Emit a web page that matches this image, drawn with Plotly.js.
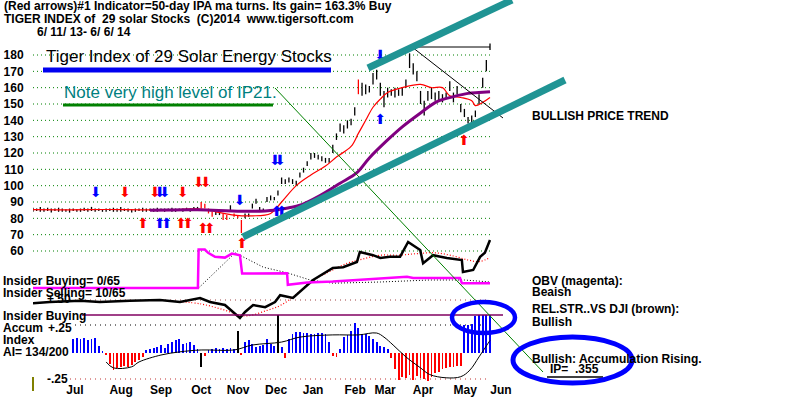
<!DOCTYPE html>
<html><head><meta charset="utf-8">
<script src="https://cdn.plot.ly/plotly-3.0.1.min.js"></script>
<style>html,body{margin:0;padding:0;background:#fff}#c{width:800px;height:397px}</style>
</head><body><div id="c"></div>
<script>
// ---------------- DATA ----------------
const months = ['Jul','Aug','Sep','Oct','Nov','Dec','Jan','Feb','Mar','Apr','May','Jun'];
const monthPos = [11.5, 24.1, 35.0, 46.0, 56.1, 66.5, 76.6, 88.1, 96.3, 106.7, 118.2, 128.0];
const priceTicks = [60,70,80,90,100,110,120,130,140,150,160,170,180];

// Tiger Index of 29 solar stocks, one bar every two trading days (high / low)
const priceHigh = [
 86.5,86,87,86,86.5,86,86,86.5,86,85.5, 86,86,85.5,86,86.5,86,87,86,86,85.5,
 86,86,86.5,86,87,86,86,85.5,86,86, 86.5,86,86,86,86.5,86,86,86,86.5,86,
 86,86,86.5,86,87,
 87,90,89,86,84,84,84,83,82,88,
 83,82,79,83,83,89,92,87,86,93,
 94,93,97,105,104,105,104,103,108,111,
 115,120,120,119,118,117,117,125,132,138,
 137,140,141,148,165,163,162,161,169,171,
 163,158,160,159,160,159,160,165,181,175,
 170,158,152,158,160,157,158,156,157,164,
 157,161,150,147,142,143,146,156,166,177,187];
const priceLow = [
 84,84.5,84,84,84.5,83.5,84.5,84,84,84, 83.5,84.5,84,84,84.5,84,84.5,84,84.5,84,
 84,84.5,84,84,84,84.5,84,83.5,84,84.5, 84,84,84.5,84,84,84.5,84,84.5,84,84,
 84.5,84,84.5,84,84.5,
 85,86,86,83,81,82,82,79,79,85,
 81,80,71,80,81,86,89,84,84,90,
 91,91,94,101,101,102,101,100,105,108,
 112,116,117,116,115,114,114,120,128,133,
 132,135,137,143,156,155,156,157,162,165,
 155,148,154,155,154,155,155,160,172,168,
 164,150,143,152,153,152,152,151,153,158,
 151,156,145,142,138,138,142,150,160,170,183];
const redBarIdx = [46,47,48,49,52,53,55,56,57,89];

// 21-day (red) and 50-day (purple) moving averages
const ma21X = [0,10,20,30,40,45,50,55,60,65, 68,72,76,80,83,87,89,91,93,95, 97,101,106,109,112,114,117,120,121,123, 125];
const ma21  = [85.3,85.2,85.4,85.2,85.4,85.8,84,82,81.5,83, 90,100,106.5,112,117.5,124,132,140,148,153, 157,160,162,160,160,155,154,152,149,151, 154];
const ma50X = [32,45,57,66,70,73,78.5,84,88.6,92,97,101,106,110.5,115,119,122,125];
const ma50  = [85,85.3,84.3,85,86.5,88,94,101.5,108,117,128,136,144.5,151.5,154.5,156.5,157,157.5];

// Buy / sell arrows (index, price level)
const blueDownX = [17.2,34.7,36.1,56.6,66.2,67.6,95];
const blueDownY = [95,95,95,90.5,114.5,114.5,178.8];
const redDownX  = [25.2,33.4,41,45.4,47.3];
const redDownY  = [95,95,95,101.5,101.5];
const blueUpX   = [34.7,36.6,66.7,68.1,95];
const blueUpY   = [76,76,83.5,83.5,140];
const redUpX    = [30.1,40.5,42.4,46.5,48.4,57.2,117.9];
const redUpY    = [76,76,76,73,73,63.7,127];

// OBV (magenta) and its moving average (black dotted), arbitrary units
const obvX  = [0,45.1,45.3,47,47.9,49.8,52.5,54.4,56.6,57.2,69.5,69.7,75,82,88.6,95,102.3,104,116.8,117.3,125];
const obv   = [40,40,88,88,84,79,78,83,81,58,58.5,44,47,48,50,51.5,54,52.5,52.5,46,46];
const obvMaX = [45.3,55.3,63,69.5,75.8,82,95,108.6,118,125];
const obvMa  = [40,84,66,59,50,46,47.5,50,50,47.5];

// Relative strength line (black) and its moving average (red dotted)
const rsX = [0,4.6,12.9,18.3,26.5,34.7,40.2,45.7,48.4,52.5,56.6,58,60.2,63.5,66.2,67.6,71.1,74.4,76.6,82,84.8,88.6,89.4,93,95,97.6,100.4,102.6,105.9,106.7,109.4,113.2,117.3,117.6,120.4,122.3,123.6,125];
const rs  = [21,22.5,24,22.5,24,25,22.5,27.5,22.5,18.75,2.5,10,18.75,16,22.5,31,27.5,41,50,65,66,72.5,85,81,77.5,79,79,97.5,87.5,71,81,77.5,75,60,62.5,79,84,100];
const rsMaX = [40,46,52,58,64,68,72,76,80,86,90,95,100,105,110,115,119,122,125];
const rsMa  = [23,20,13,5,12,19,32,48,58,71,76,81,81,83,84,80,75,73,78];

// Accumulation Index (IP21) histogram and its moving average
const aiIndex = [
 null,null,null,null,null,null,null,null,null,null,
 null,0.12,0.13,0.12,0.13,0.11,0.12,0.13,0.06,0.01,
 -0.02,-0.10,-0.16,-0.14,-0.13,-0.12,-0.13,-0.11,-0.09,-0.07,
 -0.04,0.02,0.03,0.04,0.05,0.07,0.04,0.08,0.10,0.11,
 0.12,0.08,0.09,0.10,0.07,0.03,-0.13,-0.03,0.02,0.03,
 0.04,0.03,0.04,0.03,0.04,0.03,0.20,-0.02,0.10,0.11,
 0.08,0.05,0.06,0.07,0.12,0.08,0.06,0.34,0.05,-0.05,
 0.12,0.17,0.19,0.19,0.18,0.18,0.17,0.17,0.18,0.18,
 0.17,0.10,-0.03,-0.04,0.03,0.14,0.16,0.20,0.27,0.22,
 0.17,0.17,0.15,0.12,0.10,0.06,0.05,0.03,-0.05,-0.15,
 -0.25,-0.22,-0.23,-0.20,-0.25,-0.21,-0.23,-0.24,-0.27,-0.22,
 -0.19,-0.18,-0.15,-0.14,-0.13,-0.13,-0.12,-0.12,0.25,0.25,
 0.26,0.33,0.34,0.34,0.34,0.34];
const aiSpikeIdx = [46,56,67];
const aiMaX = [20,22,27,29,35,40,46,55,60,68,73,82,89,94,96,98.5,102,106,108.5,113,117,119.5,122,125];
const aiMa  = [-0.086,-0.14,-0.13,-0.086,-0.023,0.005,0.023,0.023,0.068,0.095,0.14,0.16,0.16,0.177,0.14,0.068,-0.04,-0.14,-0.2,-0.23,-0.22,-0.16,-0.04,0.11];

// ---------------- GEOMETRY ----------------
const ML = 33, MB = 16, PW = 800 - ML, PH = 397 - MB;
const lastIdx = priceHigh.length - 1;
const idxPerPx = lastIdx / (490 - ML);
const XP = px => (px - ML) / PW;       // paper x from pixel
const YP = py => 1 - py / PH;          // paper y from pixel
const pricePx = 196 / 120;             // px per price unit (180 at y=55)
const priceRange = [180 - (PH - 55) / pricePx, 180 + 55 / pricePx];
const y2Range = [(320 - PH) * 1.25, 320 * 1.25];
const y3Range = [(352.5 - PH) / 110, 352.5 / 110];

const FONT = 'Liberation Sans, Arial, sans-serif';

// ---------------- TRACES ----------------
function bars(filter) {
  const xs = [], ys = [];
  priceHigh.forEach((h, i) => { if (filter(i)) { xs.push(i, i, null); ys.push(priceLow[i], h, null); } });
  return {xs, ys};
}
const blackBars = bars(i => !redBarIdx.includes(i));
const redBars = bars(i => redBarIdx.includes(i));
const aiX = aiIndex.map((v, i) => i);
const aiColors = aiIndex.map((v, i) => aiSpikeIdx.includes(i) ? '#000000' : (v >= 0 ? '#0000ff' : '#ff0000'));

const arrowTrace = (x, y, glyph, color) => ({
  type: 'scatter', mode: 'text', x, y, text: x.map(() => glyph),
  textfont: {family: 'DejaVu Sans', size: 14, color}, hoverinfo: 'skip', showlegend: false
});

const traces = [
  {type: 'bar', x: aiX, y: aiIndex, yaxis: 'y3', width: 0.5, marker: {color: aiColors, line: {width: 0}}, showlegend: false},
  {type: 'scatter', mode: 'lines', x: aiMaX, y: aiMa, yaxis: 'y3', line: {color: '#000', width: 1, shape: 'spline'}, showlegend: false},
  {type: 'scatter', mode: 'lines', x: rsMaX, y: rsMa, yaxis: 'y2', line: {color: '#ff0000', width: 1.2, dash: '1px,2px', shape: 'spline'}, showlegend: false},
  {type: 'scatter', mode: 'lines', x: rsX, y: rs, yaxis: 'y2', line: {color: '#000', width: 2.5}, showlegend: false},
  {type: 'scatter', mode: 'lines', x: obvMaX, y: obvMa, yaxis: 'y2', line: {color: '#000', width: 1, dash: '1px,2px'}, showlegend: false},
  {type: 'scatter', mode: 'lines', x: obvX, y: obv, yaxis: 'y2', line: {color: '#ff00ff', width: 2.5}, showlegend: false},
  {type: 'scatter', mode: 'lines', x: blackBars.xs, y: blackBars.ys, line: {color: '#000', width: 1.3}, showlegend: false},
  {type: 'scatter', mode: 'lines', x: redBars.xs, y: redBars.ys, line: {color: '#ff0000', width: 1.3}, showlegend: false},
  {type: 'scatter', mode: 'lines', x: ma21X, y: ma21, line: {color: '#ff0000', width: 1.2, shape: 'spline'}, showlegend: false},
  {type: 'scatter', mode: 'lines', x: ma50X, y: ma50, line: {color: '#800080', width: 3, shape: 'spline'}, showlegend: false},
  arrowTrace(blueDownX, blueDownY, '⬇', '#0000ff'),
  arrowTrace(redDownX, redDownY, '⬇', '#ff0000'),
  arrowTrace(blueUpX, blueUpY, '⬆', '#0000ff'),
  arrowTrace(redUpX, redUpY, '⬆', '#ff0000')
];

// ---------------- SHAPES ----------------
const pl = (x0, y0, x1, y1, color, width, extra) => Object.assign({
  type: 'line', xref: 'paper', yref: 'paper', x0: XP(x0), y0: YP(y0), x1: XP(x1), y1: YP(y1),
  line: {color, width}
}, extra || {});

const shapes = [];
priceTicks.forEach(v => shapes.push({type: 'line', xref: 'x', yref: 'y', x0: 0, x1: lastIdx, y0: v, y1: v,
  line: {color: '#008000', width: 1, dash: '1px,3px'}, layer: 'below'}));
shapes.push(pl(70, 300, 490, 300, '#a04040', 1, {line: {color: '#a04040', width: 1, dash: '1px,4px'}, layer: 'below'}));
shapes.push(pl(75, 325, 490, 325, '#000', 1, {line: {color: '#000', width: 1, dash: '1px,4px'}, layer: 'below'}));
shapes.push(pl(70, 379, 490, 379, '#c03030', 1, {line: {color: '#c03030', width: 1, dash: '1px,4px'}, layer: 'below'}));
shapes.push(pl(82, 315, 503, 315, '#800060', 1.5));
shapes.push(pl(33, 377, 33, 391, '#808000', 2));
// hand-drawn annotations
shapes.push(pl(412, 47, 490, 47, '#000', 1));
shapes.push(pl(412, 47, 503, 118, '#000', 1));
shapes.push(pl(275, 88, 543, 372, '#008000', 1));
shapes.push(pl(243, 237, 565, 80, '#209494', 7));
shapes.push(pl(368, 68, 512, 0, '#209494', 7));
shapes.push(pl(43, 70, 331, 70, '#0000f0', 5));
shapes.push(pl(63, 105, 273, 105, '#008000', 3));
shapes.push(pl(547, 377, 603, 377, '#000', 1.5));
shapes.push({type: 'circle', xref: 'paper', yref: 'paper', x0: XP(452), x1: XP(515), y0: YP(333), y1: YP(302), line: {color: '#0000ff', width: 4.5}});
shapes.push({type: 'circle', xref: 'paper', yref: 'paper', x0: XP(513), x1: XP(632), y0: YP(383), y1: YP(337), line: {color: '#0000ff', width: 5}});

// ---------------- TEXT ----------------
const ann = [];
function txt(t, px, py, size, opts) {
  opts = opts || {};
  ann.push({xref: 'paper', yref: 'paper', x: XP(px), y: YP(py), xanchor: 'left', yanchor: 'middle',
    text: t, showarrow: false,
    font: {family: FONT, size: size, color: opts.color || '#000', weight: opts.bold === false ? 'normal' : 'bold'}});
}
const S = '\u00a0';
txt('(Red arrows)#1 Indicator=50-day IPA ma turns. Its gain= 163.3% Buy', 2, 6, 12);
txt('TIGER INDEX of' + S + S + '29 solar Stocks' + S + S + '(C)2014' + S + S + 'www.tigersoft.com', 2, 19, 12);
txt('6/' + S + '11/' + S + '13-' + S + '6/' + S + '6/' + S + '14', 35, 32, 12);
txt('Tiger Index of 29 Solar Energy Stocks', 44, 56.5, 17, {bold: false});
txt('Note very high level of IP21.', 62, 92.5, 17, {bold: false, color: '#008080'});
txt('BULLISH PRICE TREND', 530, 116, 12);
txt('Insider Buying= 0/65', 1, 281, 12);
txt('+.50', 45, 299, 12);
txt('Insider Selling= 10/65', 1, 293, 12);
txt('Insider Buying', 1, 316, 12);
txt('Accum', 1, 327.5, 12);
txt('+.25', 46, 327.5, 12);
txt('Index', 1, 340, 12);
txt('AI= 134/200', 1, 352, 12);
txt('-.25', 45, 379, 12);
txt('OBV (magenta):', 530, 281, 12);
txt('Beaish', 530, 292, 12);
txt('REL.STR..VS DJI (brown):', 530, 309, 12);
txt('Bullish', 530, 322, 12);
txt('Bullish: Accumulation Rising.', 530, 359, 12);
txt('IP=' + S + S + '.355', 548, 369, 12);

// ---------------- LAYOUT ----------------
const layout = {
  width: 800, height: 397,
  margin: {l: ML, r: 0, t: 0, b: MB, pad: 0},
  paper_bgcolor: '#ffffff', plot_bgcolor: '#ffffff',
  showlegend: false, bargap: 0,
  xaxis: {range: [0, PW * idxPerPx], domain: [0, 1], showgrid: false, zeroline: false, showline: false,
    tickmode: 'array', tickvals: monthPos, ticktext: months, ticks: '', ticklen: 0,
    tickfont: {family: FONT, size: 12, color: '#000', weight: 'bold'}, fixedrange: true},
  yaxis: {range: priceRange, domain: [0, 1], showgrid: false, zeroline: false, showline: false,
    tickmode: 'array', tickvals: priceTicks, ticks: 'outside', ticklen: 6, tickcolor: 'rgba(0,0,0,0)',
    tickfont: {family: FONT, size: 12, color: '#000', weight: 'bold'}},
  yaxis2: {range: y2Range, overlaying: 'y', visible: false},
  yaxis3: {range: y3Range, overlaying: 'y', visible: false},
  shapes: shapes,
  annotations: ann
};

Plotly.newPlot('c', traces, layout, {staticPlot: true, displayModeBar: false});
</script>
</body></html>
